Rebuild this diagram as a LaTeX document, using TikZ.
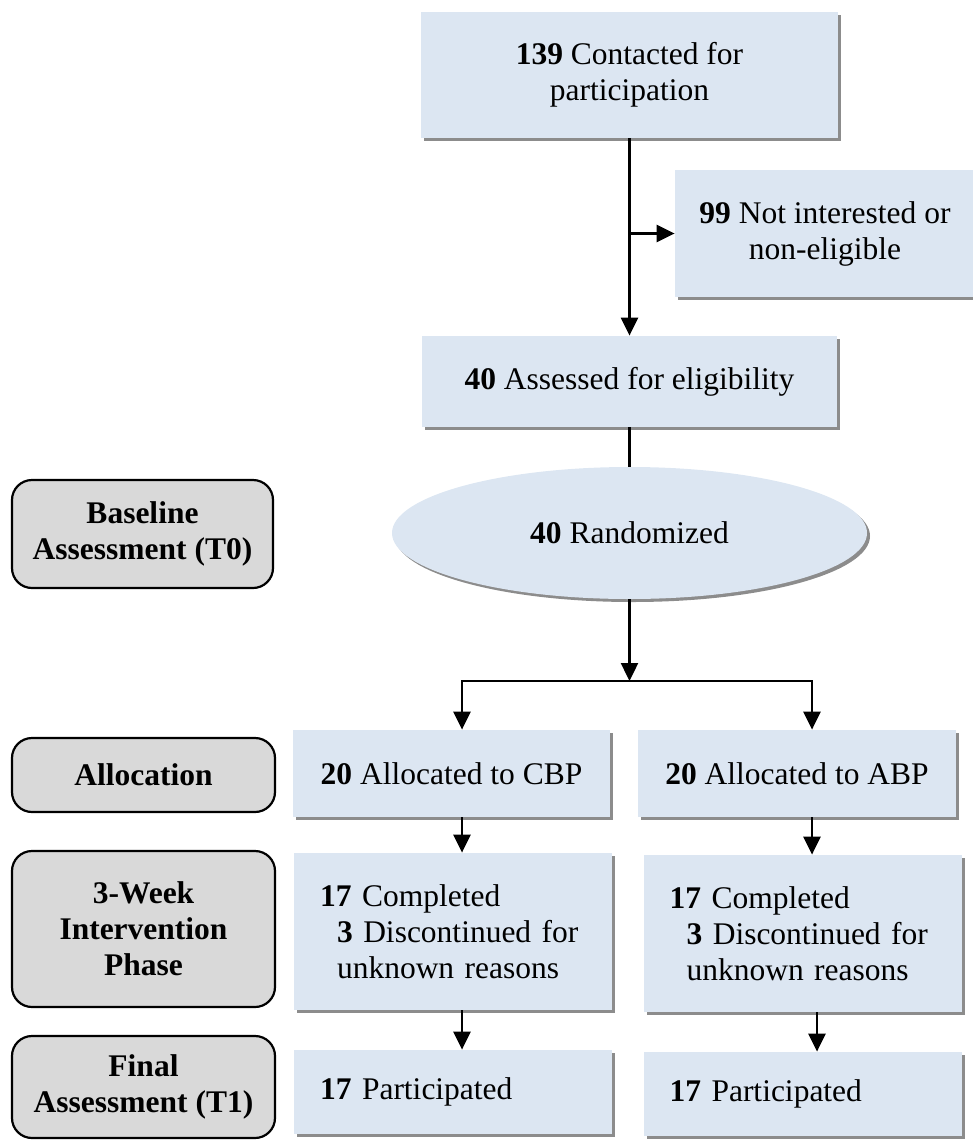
\documentclass[tikz,border=0pt]{standalone}
\usepackage{fontspec}
\setmainfont{Liberation Serif}
\usetikzlibrary{shapes.geometric,shadows,arrows.meta}

\definecolor{boxblue}{HTML}{DCE6F2}
\definecolor{stagegray}{HTML}{D9D9D9}

\newcommand{\flowfont}{\fontsize{15.75}{18}\selectfont}

\tikzset{
  flowbox/.style={fill=boxblue, inner sep=0pt, align=center, font=\flowfont,
    drop shadow={shadow xshift=1.5pt, shadow yshift=-1.5pt, fill=black!45, opacity=1}},
  countbox/.style={flowbox, align=left, text width=133pt, inner xsep=13pt},
  stagebox/.style={draw, line width=1.1pt, fill=stagegray, rounded corners=10pt,
    align=center, font=\flowfont\bfseries, inner sep=0pt},
  arr/.style={line width=1.2pt, -{Triangle[width=8.5pt,length=9pt]}},
  link/.style={line width=1.2pt}
}

\begin{document}
\begin{tikzpicture}[x=0.5pt, y=-0.5pt, line cap=butt, line join=miter]

\useasboundingbox (0,0) rectangle (973,1140);

% Stages (left column)
\node[stagebox, minimum width=130.5pt, minimum height=54pt] (tzero) at (142.5,534) {Baseline\\Assessment (T0)};
\node[stagebox, minimum width=131.5pt, minimum height=37pt] (alloc) at (143.5,775) {Allocation};
\node[stagebox, minimum width=131.5pt, minimum height=78pt] (phase) at (143.5,929) {3-Week\\Intervention\\Phase};
\node[stagebox, minimum width=131.5pt, minimum height=51pt] (tone) at (143.5,1087) {Final\\Assessment (T1)};

% Enrollment
\node[flowbox, minimum width=208.5pt, minimum height=63pt] (contact) at (629.5,75) {\textbf{139} Contacted for\\participation};
\node[flowbox, minimum width=150pt, minimum height=63.5pt] (excl) at (825,233.5) {\textbf{99} Not interested or\\non-eligible};
\node[flowbox, minimum width=207.5pt, minimum height=45.5pt] (assess) at (629.5,381.5) {\textbf{40} Assessed for eligibility};
\node[flowbox, ellipse, minimum width=237.5pt, minimum height=66pt] (rand) at (629.5,533) {\textbf{40} Randomized};

% Groups
\node[flowbox, minimum width=158.5pt, minimum height=43.5pt] (cbp) at (451.5,773.5) {\textbf{20} Allocated to CBP};
\node[flowbox, minimum width=159pt, minimum height=43.5pt] (abp) at (797,773.5) {\textbf{20} Allocated to ABP};
\node[countbox, minimum height=78.5pt] (cbpdone) at (453,931.5) {\textbf{17} Completed\\\hspace*{8.5pt}\textbf{3} Discontinued for\\\hspace*{8.5pt}unknown reasons};
\node[countbox, minimum height=78.5pt] (abpdone) at (802.5,933.5) {\textbf{17} Completed\\\hspace*{8.5pt}\textbf{3} Discontinued for\\\hspace*{8.5pt}unknown reasons};
\node[countbox, minimum height=42pt] (cbpfin) at (453,1092) {\textbf{17} Participated};
\node[countbox, minimum height=42pt] (abpfin) at (802.5,1094) {\textbf{17} Participated};

% Connectors
\coordinate (bend) at (contact.south |- excl.west);
\coordinate (split) at (629.5,681);
\draw[arr] (contact.south) -- (contact.south |- assess.north);
\draw[arr] (bend) -- (excl.west);
\draw[link] (assess.south) -- (rand.north);
\draw[arr] (rand.south) -- (split);
\draw[arr] (split) -| ([xshift=5.25pt]cbp.north);
\draw[arr] (split) -| ([xshift=7.5pt]abp.north);
\draw[arr] ([xshift=5.25pt]cbp.south) -- ([xshift=5.25pt]cbp.south |- cbpdone.north);
\draw[arr] ([xshift=7.5pt]abp.south) -- ([xshift=7.5pt]abp.south |- abpdone.north);
\draw[arr] ([xshift=4.5pt]cbpdone.south) -- ([xshift=4.5pt]cbpdone.south |- cbpfin.north);
\draw[arr] ([xshift=7.25pt]abpdone.south) -- ([xshift=7.25pt]abpdone.south |- abpfin.north);

\end{tikzpicture}
\end{document}
